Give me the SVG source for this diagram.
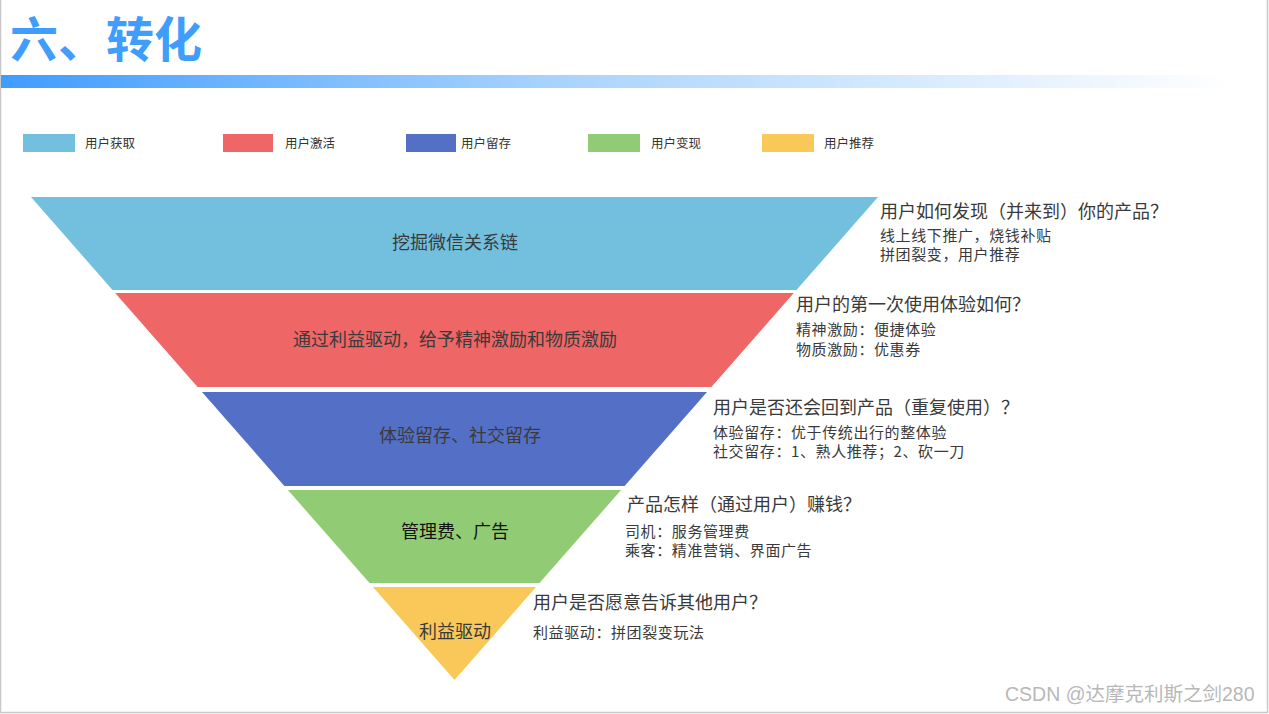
<svg xmlns="http://www.w3.org/2000/svg" width="1269" height="714" viewBox="0 0 1269 714">
<style>
text{font-family:"Noto Sans CJK SC","Noto Sans",sans-serif;}
.title{font-size:48px;font-weight:bold;fill:#3f9dfb;}
.leg{font-size:12.5px;fill:#333;}
.lbl{font-size:18px;fill:#3a3a3a;text-anchor:middle;}
.hd{font-size:18px;fill:#3a3a3a;}
.sub{font-size:15px;fill:#3a3a3a;letter-spacing:0.6px;}
.wm{font-size:19.5px;fill:#b8b8b8;font-family:"Liberation Sans","Noto Sans CJK SC",sans-serif;}
</style>
<defs>
<linearGradient id="bar" x1="0" y1="0" x2="1" y2="0">
<stop offset="0" stop-color="#3f9cff"/>
<stop offset="0.45" stop-color="#a9d3fc"/>
<stop offset="1" stop-color="#ffffff"/>
</linearGradient>
</defs>
<rect x="0" y="0" width="1269" height="714" fill="#ffffff"/>
<path d="M0.5 0 V712.5 H1267.5 V0" fill="none" stroke="#c8c8c8" stroke-width="1.5"/>
<g id="title">
<text class="title" x="10" y="57">六、转化</text>
<rect x="1" y="75" width="1230" height="13" fill="url(#bar)"/>
</g>
<g id="legend">
<rect x="23" y="134" width="52" height="18" fill="#73c0de"/>
<text class="leg" x="85" y="148">用户获取</text>
<rect x="223" y="134" width="50" height="18" fill="#ee6666"/>
<text class="leg" x="285" y="148">用户激活</text>
<rect x="406" y="134" width="50" height="18" fill="#5470c6"/>
<text class="leg" x="461" y="148">用户留存</text>
<rect x="588" y="134" width="52" height="18" fill="#91cc75"/>
<text class="leg" x="651" y="148">用户变现</text>
<rect x="762" y="134" width="52" height="18" fill="#fac858"/>
<text class="leg" x="824" y="148">用户推荐</text>
</g>
<g id="layer1">
<polygon points="31,197 878,197 796.5,290 112.5,290" fill="#73c0de"/>
<text class="lbl" x="455" y="249">挖掘微信关系链</text>
<text class="hd" x="880" y="218">用户如何发现（并来到）你的产品？</text>
<text class="sub" x="880" y="240.5">线上线下推广，烧钱补贴</text>
<text class="sub" x="880" y="260">拼团裂变，用户推荐</text>
</g>
<g id="layer2">
<polygon points="115.2,293 793.8,293 711.4,387 197.6,387" fill="#ee6666"/>
<text class="lbl" x="455" y="346">通过利益驱动，给予精神激励和物质激励</text>
<text class="hd" x="796" y="311">用户的第一次使用体验如何？</text>
<text class="sub" x="796" y="334.5">精神激励：便捷体验</text>
<text class="sub" x="796" y="354.5">物质激励：优惠券</text>
</g>
<g id="layer3">
<polygon points="202,392 707,392 624.6,486 284.4,486" fill="#5470c6"/>
<text class="lbl" x="460" y="442">体验留存、社交留存</text>
<text class="hd" x="713" y="414">用户是否还会回到产品（重复使用）？</text>
<text class="sub" x="713" y="437.5">体验留存：优于传统出行的整体验</text>
<text class="sub" x="713" y="457">社交留存：1、熟人推荐；2、砍一刀</text>
</g>
<g id="layer4">
<polygon points="287.9,490 621.1,490 539.5,583 369.5,583" fill="#91cc75"/>
<text class="lbl" x="455" y="538" style="fill:#111">管理费、广告</text>
<text class="hd" x="627" y="511">产品怎样（通过用户）赚钱？</text>
<text class="sub" x="625" y="536.5">司机：服务管理费</text>
<text class="sub" x="625" y="556">乘客：精准营销、界面广告</text>
</g>
<g id="layer5">
<polygon points="373,587 536,587 454.5,680" fill="#fac858"/>
<text class="lbl" x="455" y="638">利益驱动</text>
<text class="hd" x="533" y="609">用户是否愿意告诉其他用户？</text>
<text class="sub" x="533" y="638">利益驱动：拼团裂变玩法</text>
</g>
<g id="connectors"></g>
<text class="wm" x="1005" y="701">CSDN @达摩克利斯之剑280</text>
</svg>
